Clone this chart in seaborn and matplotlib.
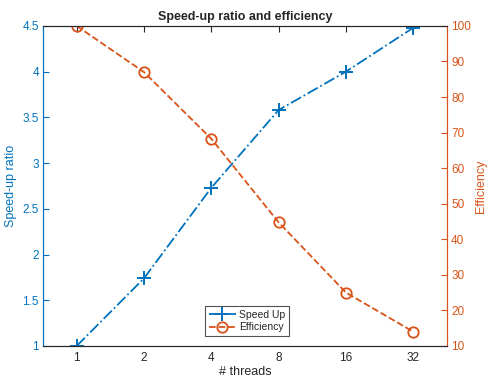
import matplotlib
matplotlib.use("Agg")
import matplotlib.pyplot as plt
import seaborn as sns
import pandas as pd
import numpy as np

threads = ["1", "2", "4", "8", "16", "32"]
speedup = [1.0, 1.74, 2.73, 3.58, 4.0, 4.48]
efficiency = [100, 87, 68.25, 44.75, 25, 14]

BLUE = "#0072BD"
ORANGE = "#D95319"

sns.set_style("white")
plt.rcParams["font.family"] = ["Liberation Sans", "DejaVu Sans"]
plt.rcParams["font.size"] = 8

df = pd.DataFrame({"pos": np.arange(len(threads)), "speedup": speedup, "efficiency": efficiency})

fig = plt.figure(figsize=(4.89, 3.81), dpi=100)
ax = fig.add_axes([0.088, 0.092, 0.826, 0.840])
ax2 = ax.twinx()

sns.lineplot(data=df, x="pos", y="speedup", ax=ax, color=BLUE, linestyle="-.",
             marker="+", markersize=10, markeredgecolor=BLUE, markeredgewidth=1.4,
             linewidth=1.3, label="Speed Up", legend=False)
sns.lineplot(data=df, x="pos", y="efficiency", ax=ax2, color=ORANGE, linestyle="--",
             marker="o", markersize=7.5, markerfacecolor="none", markeredgecolor=ORANGE,
             markeredgewidth=1.3, linewidth=1.3, label="Efficiency", legend=False)

ax.set_xlim(-0.5, len(threads) - 0.5)
ax.set_xticks(np.arange(len(threads)))
ax.set_xticklabels(threads)
ax.set_ylim(1, 4.5)
ax.set_yticks([1, 1.5, 2, 2.5, 3, 3.5, 4, 4.5])
ax.set_yticklabels(["1", "1.5", "2", "2.5", "3", "3.5", "4", "4.5"])
ax2.set_ylim(10, 100)
ax2.set_yticks(range(10, 101, 10))

ax.set_xlabel("# threads", fontsize=9, color="#262626", labelpad=2)
ax.set_ylabel("Speed-up ratio", fontsize=9, color=BLUE, labelpad=4)
ax2.set_ylabel("Efficiency", fontsize=9, color=ORANGE, labelpad=3)
ax.set_title("Speed-up ratio and efficiency", fontsize=9, fontweight="bold", pad=4)

for a in (ax, ax2):
    for s in a.spines.values():
        s.set_linewidth(0.8)
        s.set_color("#262626")
ax.spines["left"].set_color(BLUE)
ax2.spines["left"].set_color(BLUE)
ax2.spines["right"].set_color(ORANGE)
ax.spines["right"].set_color(ORANGE)

ax.tick_params(axis="x", direction="in", length=4, width=0.8, colors="#262626", top=True, labelsize=8.5, pad=4)
ax.tick_params(axis="y", direction="in", length=4, width=0.8, colors=BLUE, labelsize=8.5, pad=3)
ax2.tick_params(axis="y", direction="in", length=4, width=0.8, colors=ORANGE, labelsize=8.5, pad=3)

h1, l1 = ax.get_legend_handles_labels()
h2, l2 = ax2.get_legend_handles_labels()
leg = ax2.legend(h1 + h2, l1 + l2, loc="lower center", bbox_to_anchor=(0.505, 0.015),
                 fontsize=7.5, frameon=True, fancybox=False, edgecolor="#262626",
                 handlelength=2.6, handletextpad=0.3, borderpad=0.35, labelspacing=0.25)
leg.get_frame().set_linewidth(0.8)

fig.savefig("out.png", dpi=100)
